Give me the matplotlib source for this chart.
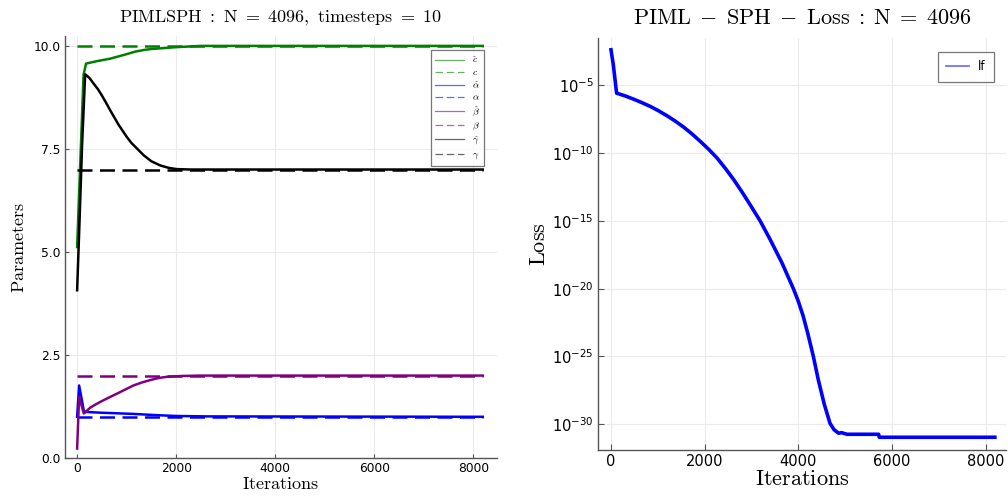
import numpy as np
import matplotlib
matplotlib.use("Agg")
import matplotlib.pyplot as plt
from matplotlib.ticker import FixedLocator, NullLocator

plt.rcParams['mathtext.fontset'] = 'cm'
plt.rcParams['font.family'] = ['DejaVu Sans']

# ---------------- data ----------------
c_hat_it = [0, 40, 80, 130, 180, 400, 667, 850, 1003, 1170, 1340, 1500, 1677, 2013, 2500, 8192]
c_hat = [5.12, 6.4, 7.7, 9.3, 9.57, 9.63, 9.69, 9.75, 9.80, 9.86, 9.90, 9.925, 9.94, 9.97, 10.0, 10.0]

alpha_hat_it = [0, 40, 140, 465, 800, 1137, 1600, 2000, 2600, 8192]
alpha_hat = [1.0, 1.76, 1.12, 1.10, 1.085, 1.07, 1.04, 1.02, 1.01, 1.0]

beta_hat_it = [0, 40, 135, 200, 263, 360, 465, 630, 802, 970, 1137, 1300, 1475, 1640,
               1810, 2100, 2500, 8192]
beta_hat = [0.23, 1.48, 1.08, 1.15, 1.22, 1.29, 1.36, 1.46, 1.56, 1.66, 1.76, 1.83, 1.89,
            1.94, 1.97, 1.99, 2.0, 2.0]

gamma_hat_it = [0, 50, 100, 162, 250, 330, 420, 498, 580, 667, 830, 1003, 1100, 1200,
                1340, 1500, 1677, 1850, 2013, 2300, 8192]
gamma_hat = [4.07, 5.8, 7.6, 9.31, 9.22, 9.09, 8.95, 8.80, 8.63, 8.44, 8.10, 7.79, 7.64,
             7.52, 7.35, 7.20, 7.10, 7.04, 7.01, 7.0, 7.0]

target_it = [0, 8192]
c_true = 10.0
alpha_true = 1.0
beta_true = 2.0
gamma_true = 7.0

loss_it = [0, 50, 120, 300, 480, 660, 840, 1020, 1196, 1375, 1553, 1730, 1910, 2090,
           2267, 2445, 2623, 2800, 2980, 3184, 3394, 3650, 3893, 4000, 4100, 4200,
           4319, 4425, 4550, 4674, 4760, 4857, 4920, 5036, 5712, 5725, 8192]
loss_log10 = [-2.37, -3.48, -5.57, -5.77, -6.01, -6.27, -6.55, -6.88, -7.24, -7.64,
              -8.08, -8.58, -9.14, -9.73, -10.37, -11.14, -11.97, -12.88, -13.86, -15.0,
              -16.35, -18.1, -20.0, -20.95, -22.0, -23.3, -25.0, -26.73, -28.5, -29.93,
              -30.4, -30.66, -30.62, -30.74, -30.74, -30.96, -30.96]

xticks = [0, 2000, 4000, 6000, 8000]
left_yticks = [0.0, 2.5, 5.0, 7.5, 10.0]
loss_ytick_exp = [-5, -10, -15, -20, -25, -30]

# ---------------- figure ----------------
fig = plt.figure(figsize=(10.08, 4.97), dpi=100)
W, H = 1008, 497

def place(l, t, r, b):
    return [l / W, 1 - b / H, (r - l) / W, (b - t) / H]

spine_col = '#555555'
grid_col = '#ebebeb'
dash = (0, (6, 3))

# ---- left panel ----
ax1 = fig.add_axes(place(65, 36, 497, 458))
lw = 1.8
ax1.plot(c_hat_it, c_hat, color='green', lw=lw, label=r'$\hat{c}$')
ax1.plot(target_it, [c_true] * 2, color='green', lw=lw, ls=dash, label=r'$c$')
ax1.plot(alpha_hat_it, alpha_hat, color='blue', lw=lw, label=r'$\hat{\alpha}$')
ax1.plot(target_it, [alpha_true] * 2, color='blue', lw=lw, ls=dash, label=r'$\alpha$')
ax1.plot(beta_hat_it, beta_hat, color='purple', lw=lw, label=r'$\hat{\beta}$')
ax1.plot(target_it, [beta_true] * 2, color='purple', lw=lw, ls=dash, label=r'$\beta$')
ax1.plot(gamma_hat_it, gamma_hat, color='black', lw=lw, label=r'$\hat{\gamma}$')
ax1.plot(target_it, [gamma_true] * 2, color='black', lw=lw, ls=dash, label=r'$\gamma$')

ax1.set_xlim(-245, 8480)
ax1.set_ylim(0.0, 10.24)
ax1.set_xticks(xticks)
ax1.set_yticks(left_yticks)
ax1.set_yticklabels([f'{v:.1f}' for v in left_yticks])
ax1.tick_params(labelsize=8.8, direction='in', length=3, color=spine_col, pad=3)
ax1.grid(True, color=grid_col, lw=0.8)
ax1.set_axisbelow(True)
for s in ['top', 'right']:
    ax1.spines[s].set_visible(False)
for s in ['left', 'bottom']:
    ax1.spines[s].set_color(spine_col)
    ax1.spines[s].set_linewidth(1.0)
ax1.set_title(r'$\mathrm{PIMLSPH}\ :\ \mathrm{N}\ =\ 4096,\ \mathrm{timesteps}\ =\ 10$',
              fontsize=13, pad=10)
ax1.set_xlabel(r'$\mathrm{Iterations}$', fontsize=13, labelpad=0)
ax1.set_ylabel(r'$\mathrm{Parameters}$', fontsize=13, labelpad=4)
leg1 = ax1.legend(loc='upper right', fontsize=7, frameon=True, fancybox=False,
                  edgecolor=spine_col, handlelength=3.0, borderpad=0.45,
                  labelspacing=0.22, borderaxespad=0.0,
                  bbox_to_anchor=(0.970, 0.967))
for h in leg1.get_lines():
    h.set_linewidth(0.9)
    h.set_alpha(0.6)
leg1.get_frame().set_linewidth(0.9)

# ---- right panel ----
ax2 = fig.add_axes(place(598, 38, 1006, 450))
loss_vals = [10.0 ** e for e in loss_log10]
ax2.plot(loss_it, loss_vals, color='blue', lw=2.6, label='lf')
ax2.set_yscale('log')
ax2.set_xlim(-277, 8430)
ax2.set_ylim(10 ** -31.9, 10 ** -1.5)
ax2.set_xticks(xticks)
ax2.yaxis.set_major_locator(FixedLocator([10.0 ** e for e in loss_ytick_exp]))
ax2.yaxis.set_minor_locator(NullLocator())
ax2.set_yticklabels([r'$\mathdefault{10^{%d}}$' % e for e in loss_ytick_exp])
ax2.tick_params(labelsize=10.5, direction='in', length=4, color=spine_col, pad=3)
ax2.grid(True, color=grid_col, lw=0.8)
ax2.set_axisbelow(True)
for s in ['top', 'right']:
    ax2.spines[s].set_visible(False)
for s in ['left', 'bottom']:
    ax2.spines[s].set_color(spine_col)
    ax2.spines[s].set_linewidth(1.0)
ax2.set_title(r'$\mathrm{PIML}\;-\;\mathrm{SPH}\;-\;\mathrm{Loss}\;:\;\mathrm{N}\;=\;4096$',
              fontsize=16, pad=10)
ax2.set_xlabel(r'$\mathrm{Iterations}$', fontsize=16, labelpad=0)
ax2.set_ylabel(r'$\mathrm{Loss}$', fontsize=16, labelpad=2)
leg2 = ax2.legend(loc='upper right', fontsize=8.5, frameon=True, fancybox=False,
                  edgecolor=spine_col, handlelength=1.9, borderpad=0.7,
                  borderaxespad=0.0, bbox_to_anchor=(0.9706, 0.966))
for h in leg2.get_lines():
    h.set_linewidth(1.2)
    h.set_alpha(0.6)
leg2.get_frame().set_linewidth(0.9)

fig.savefig('out.png', dpi=100)
